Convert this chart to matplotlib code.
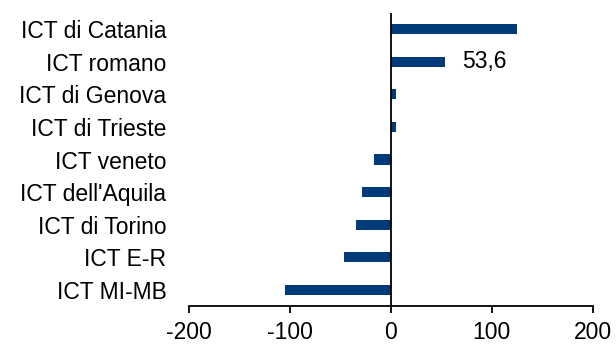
import matplotlib
matplotlib.use("Agg")
import matplotlib.pyplot as plt

plt.rcParams['font.family'] = ['Liberation Sans', 'DejaVu Sans']

categories = ["ICT di Catania", "ICT romano", "ICT di Genova", "ICT di Trieste",
              "ICT veneto", "ICT dell'Aquila", "ICT di Torino", "ICT E-R", "ICT MI-MB"]
values = [125.3, 53.6, 5.3, 5.0, -16.5, -28.4, -34.7, -46.5, -104.7]
xticks = [-200, -100, 0, 100, 200]
label_text = "53,6"
label_index = 1
label_x = 93

fig = plt.figure(figsize=(6.16, 3.45), dpi=100)
ax = fig.add_axes([0.3063, 0.113, 0.656, 0.8493])

ypos = list(range(len(categories)))
ax.barh(ypos, values, height=0.31, color="#003a78", zorder=2)
ax.set_ylim(len(categories) - 0.5, -0.5)
ax.set_xlim(-200, 200)
ax.set_xticks(xticks)
ax.set_xticklabels([str(t) for t in xticks])
ax.set_yticks(ypos)
ax.set_yticklabels(categories)

ax.axvline(0, color="black", lw=1.3, zorder=3)
for s in ["left", "right", "top"]:
    ax.spines[s].set_visible(False)
ax.spines["bottom"].set_linewidth(1.3)
ax.tick_params(axis="y", length=0, pad=16, labelsize=16.5)
ax.tick_params(axis="x", direction="out", length=5, width=1.3, pad=6, labelsize=16.5)

ax.text(label_x, label_index, label_text, ha="center", va="center", fontsize=16.5)

fig.savefig("out.png", dpi=100)
